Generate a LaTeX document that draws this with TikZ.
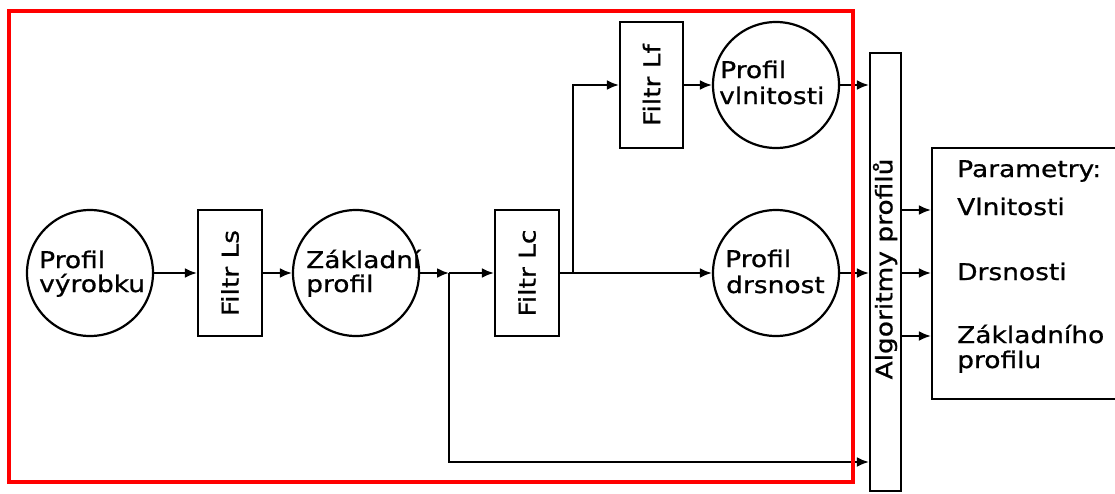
\documentclass[tikz,border=0pt]{standalone}
\usepackage{fontspec}
\setmainfont{DejaVu Sans}[FakeStretch=1.15,FakeBold=0.8]
\usetikzlibrary{arrows.meta}
\begin{document}
\begin{tikzpicture}[x=1pt,y=-1pt,
  every node/.style={font=\fontsize{23}{24}\selectfont},
  line/.style={line width=2.2pt,black},
  arr/.style={line, -{Latex[length=12pt,width=10pt]}},
  circ/.style={circle,draw,line width=2.2pt,minimum size=126pt,inner sep=0pt},
  boxnode/.style={rectangle,draw,line width=2.2pt,inner sep=0pt},
  lbl/.style={anchor=base west,inner sep=0pt}]
\useasboundingbox (0,0) rectangle (1115,493);
% nodes
\node[circ] (pv) at (90,273) {};
\node[lbl] (t1a) at (39,268) {Profil};
\node[lbl] (t1b) at (39,292) {výrobku};
\node[boxnode,minimum width=64pt,minimum height=126pt] (fls) at (230,273) {\rotatebox{90}{Filtr Ls}};
\node[circ] (zp) at (356,273) {};
\node[lbl] (t2a) at (306,268) {Základní};
\node[lbl] (t2b) at (306,292) {profil};
\node[boxnode,minimum width=64pt,minimum height=126pt] (flc) at (527,273) {\rotatebox{90}{Filtr Lc}};
\node[boxnode,minimum width=63pt,minimum height=126pt] (flf) at (651.5,85) {\rotatebox{90}{Filtr Lf}};
\node[circ] (pvl) at (776,85) {};
\node[lbl] (t3a) at (720,78) {Profil};
\node[lbl] (t3b) at (719,104) {vlnitosti};
\node[circ] (pd) at (776,273) {};
\node[lbl] (t4a) at (725,267) {Profil};
\node[lbl] (t4b) at (726,293) {drsnost};
\node[boxnode,minimum width=31pt,minimum height=438pt] (alg) at (885.5,272) {};
\node[rotate=90,inner sep=0pt] (algt) at (885,269) {Algoritmy profilů};
\node[boxnode,minimum width=193pt,minimum height=251pt] (par) at (1028.5,273.5) {};
\node[lbl] (p0) at (957,177) {Parametry:};
\node[lbl] (p1) at (957,215) {Vlnitosti};
\node[lbl] (p2) at (957,280) {Drsnosti};
\node[lbl] (p3) at (957,343) {Základního};
\node[lbl] (p4) at (957,368) {profilu};
% coordinates
\coordinate (b1) at (449,273);
\coordinate (b2) at (449,462);
\coordinate (b3) at (573,273);
\coordinate (o1) at (901,210);
\coordinate (o2) at (901,273);
\coordinate (o3) at (901,336);
% connectors
\draw[arr] (pv.east) -- (fls.west);
\draw[arr] (fls.east) -- (zp.west);
\draw[arr] (zp.east) -- (b1);
\draw[arr] (b1) -- (flc.west);
\draw[arr] (b1) -- (b2) -- (b2 -| alg.west);
\draw[arr] (flc.east) -- (pd.west);
\draw[arr] (b3) |- (flf.west);
\draw[arr] (flf.east) -- (pvl.west);
\draw[arr] (pvl.east) -- (pvl.east -| alg.west);
\draw[arr] (pd.east) -- (pd.east -| alg.west);
\draw[arr] (o1) -- (o1 -| par.west);
\draw[arr] (o2) -- (o2 -| par.west);
\draw[arr] (o3) -- (o3 -| par.west);
% red frame
\draw[red,line width=4pt] (9,11) rectangle (853,482);
\end{tikzpicture}
\end{document}
